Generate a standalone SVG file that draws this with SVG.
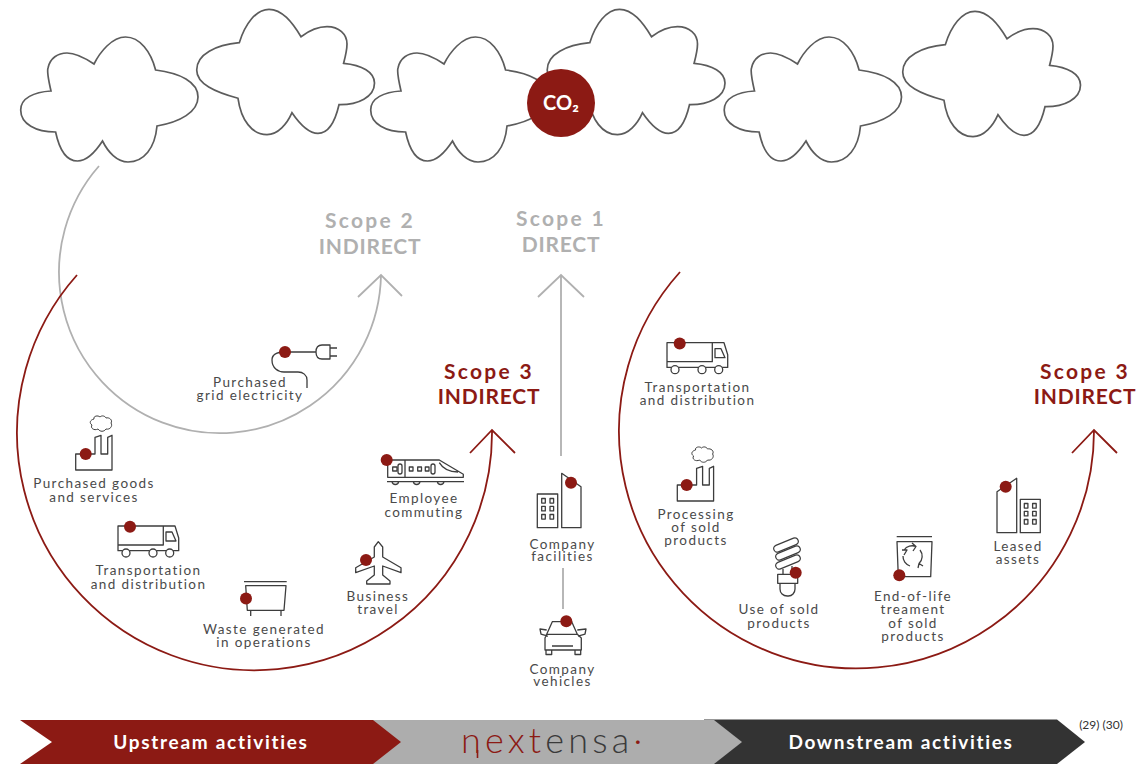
<svg xmlns="http://www.w3.org/2000/svg" width="1138" height="764" viewBox="0 0 1138 764">
<style>
text{font-family:"Lato","Open Sans","Liberation Sans",sans-serif;text-anchor:middle}
.l{font-size:13.5px;letter-spacing:1.4px;fill:#4a4a4a}
.h{font-size:21px;font-weight:700;letter-spacing:.8px}
.s{letter-spacing:2.3px}
.g{fill:#b0b0b0}
.r{fill:#8c1a14}
.c{fill:#fff;stroke:#5c5c5c;stroke-width:1.7}
.i{fill:none;stroke:#3d3d3d;stroke-width:1.3;stroke-linejoin:round}
.w{fill:#fff;stroke:#3d3d3d;stroke-width:1.3}
.d{fill:#8c1a14}
.ar{fill:none;stroke:#8c1a14;stroke-width:1.8}
.ag{fill:none;stroke:#b0b0b0;stroke-width:1.8}
.b{font-size:19px;font-weight:700;fill:#fff;letter-spacing:1.7px}
</style>
<defs>
<path id="ca" d="M94 64C100 52 112 37 125.5 37C140 37 151 52 155.6 70C180 73 198 82 198 97C198 112 180 122 157 126C155 148 144 162 128 162C117 162 108 152 102.5 141C96 151 87 161 77.5 161C66 161 59 148 55.6 132C36 132 20.7 124 20.7 110C20.7 98 34 92 51 91C48 78 47 71 48 68C50 58 58 53 67 53C76 53 85 58 94 64Z"/>
<path id="cb" d="M239.3 42.7C245 24 256 9.3 269 9.3C282 9.3 292 22 301 36.7C310 30 319 26.7 327 26.7C339 26.7 347 34 347 44C347 50 345 58 343.6 63.3C362 65 374.5 72 374.5 83C374.5 97 358 105 339 104.7C335 122 328 133.3 318 133.3C308 133.3 299 123 292 112.7C287 124 278 134.7 267 134.7C252 134.7 241 120 238 98.3C215 92 196.7 84 196.7 70C196.7 54 216 45 239.3 42.7Z"/>
<g id="truck" class="i">
<path d="M118 526H163.3V545H118ZM118 545V550.7H178.7V538L175 526H163.3M166 532H172L176 541H166Z"/>
<circle class="w" cx="126" cy="553" r="4"/><circle class="w" cx="153" cy="553" r="4"/><circle class="w" cx="169.7" cy="553" r="4"/>
</g>
<g id="factory" class="i">
<path d="M75.7 454H95V437.3L101 435.3V454H107.7V437.3L112 435.3V470H75.7Z"/>
<path stroke-width="1" d="M94 419C93 416 98 415 100 417C102 415 105 416 106 418C109 417 113 420 111 423C113 426 110 430 106 429C104 432 100 432 98 429C94 431 90 428 92 425C89 423 90 420 94 419Z"/>
</g>
<g id="windows" class="i">
<rect x="0" y="0" width="3.6" height="4.6"/><rect x="8.3" y="0" width="3.6" height="4.6"/>
<rect x="0" y="7.8" width="3.6" height="4.6"/><rect x="8.3" y="7.8" width="3.6" height="4.6"/>
<rect x="0" y="16" width="3.6" height="4.6"/><rect x="8.3" y="16" width="3.6" height="4.6"/>
</g>
</defs>
<g id="connectors">
<path class="ag" d="M99 166A161 161 0 1 0 381 275M358 297L381 275L402 296"/>
<path class="ag" d="M561 456V275M538 297L561 275L584 297M563 568V609"/>
<path class="ar" d="M77 275A237.5 237.5 0 1 0 492 430M470 453L492 430L515 453"/>
<path class="ar" d="M680 272A237.5 237.5 0 1 0 1094 430M1072 453L1094 430L1117 453"/>
</g>
<g id="clouds">
<use href="#ca" class="c"/>
<use href="#cb" class="c"/>
<use href="#ca" class="c" x="350"/>
<use href="#cb" class="c" x="350.5"/>
<use href="#ca" class="c" x="703.5"/>
<use href="#cb" class="c" x="706" y="2"/>
</g>
<g id="co2"><circle class="d" cx="561" cy="103" r="34"/><text x="561" y="110" style="font-size:20px;font-weight:700;fill:#fff">CO₂</text></g>
<g id="scope2"><text class="h s g" x="370" y="228">Scope 2</text><text class="h g" x="370" y="254">INDIRECT</text></g>
<g id="scope1"><text class="h s g" x="561" y="226">Scope 1</text><text class="h g" x="561" y="252">DIRECT</text></g>
<g id="scope3-up"><text class="h s r" x="489" y="379">Scope 3</text><text class="h r" x="489" y="404">INDIRECT</text></g>
<g id="scope3-down"><text class="h s r" x="1085" y="379">Scope 3</text><text class="h r" x="1085" y="404">INDIRECT</text></g>
<g id="electricity">
<path class="i" d="M285 352H316M285 352C275 352 272 356 272 360C272 368 278 372 284 372H298C303 372 307 375 307 380V388M322 345H330V359H322C318 359 316 356 316 352C316 348 318 345 322 345ZM330 348H337M330 356H337"/>
<circle class="d" cx="285" cy="352" r="6"/>
<text class="l" x="250" y="387">Purchased</text><text class="l" x="250" y="400">grid electricity</text>
</g>
<g id="goods">
<use href="#factory"/><circle class="d" cx="85.7" cy="454" r="6"/>
<text class="l" x="94" y="488">Purchased goods</text><text class="l" x="94" y="502">and services</text>
</g>
<g id="transport-up">
<use href="#truck"/><circle class="d" cx="130" cy="526.7" r="6"/>
<text class="l" x="148.5" y="575">Transportation</text><text class="l" x="148.5" y="589">and distribution</text>
</g>
<g id="waste">
<path class="i" d="M244 581.7H286.7M245.7 585.7H286L284 610.3H247.3ZM250.7 610.3V616M281 610.3V616"/>
<circle class="d" cx="246" cy="598.5" r="6"/>
<text class="l" x="264" y="634">Waste generated</text><text class="l" x="264" y="647">in operations</text>
</g>
<g id="travel">
<path class="i" d="M378.3 541.7L382.7 547V557L401 567.7V572.7L382.7 566V575L390 581V584H366.7V581L374.3 575V566L355.7 572.7V567.7L374.3 557V547Z"/>
<circle class="d" cx="366" cy="560" r="6"/>
<text class="l" x="378" y="601">Business</text><text class="l" x="378" y="614">travel</text>
</g>
<g id="commuting">
<path class="i" d="M387.7 460H439.3L463.3 474.3V477.3H387.7ZM387 481.7H464M405 460V477.3M439.3 462.7C443 469 448 472 458 472M392.7 467H397V471H392.7ZM409.3 467H413V471H409.3ZM417.7 467H421.5V471H417.7ZM425.3 467H429V471H425.3ZM392 481.7A3.4 3.4 0 0 0 398.7 481.7M413.3 481.7A3.4 3.4 0 0 0 420 481.7M437.3 481.7A3.4 3.4 0 0 0 444 481.7"/>
<rect class="i" x="398" y="464" width="4" height="10" rx="2"/><rect class="i" x="431" y="464" width="4" height="10" rx="2"/>
<circle class="d" cx="386.7" cy="460" r="6"/>
<text class="l" x="424" y="503">Employee</text><text class="l" x="424" y="517">commuting</text>
</g>
<g id="facilities">
<path class="i" d="M537.3 494H557.7V527.7H537.3ZM561.7 473.3L581 486.7V527.7H561.7Z"/>
<use href="#windows" x="541.7" y="498.5"/>
<circle class="d" cx="571" cy="482.7" r="6"/>
<text class="l" x="562.5" y="549">Company</text><text class="l" x="562.5" y="561">facilities</text>
</g>
<g id="vehicles">
<path class="i" d="M552.3 621.7H571.7L577.3 634.3H546.7ZM546.7 634.3L545 638V650H581.3V638L577.3 634.3M546.7 630L540 629L541 634L548 636M577.3 630L586 629L585 634L578 636M552 646H573M546 650V654.5H551.7V650M575 650V654.5H580.7V650"/>
<circle class="d" cx="566.3" cy="621.3" r="6"/>
<text class="l" x="562.5" y="674">Company</text><text class="l" x="562.5" y="686">vehicles</text>
</g>
<g id="transport-down">
<use href="#truck" x="549" y="-183.3"/><circle class="d" cx="679.7" cy="343.5" r="6"/>
<text class="l" x="697.5" y="392">Transportation</text><text class="l" x="697.5" y="405">and distribution</text>
</g>
<g id="processing">
<use href="#factory" x="601.6" y="31"/><circle class="d" cx="686.7" cy="485" r="6"/>
<text class="l" x="696" y="519">Processing</text><text class="l" x="696" y="532">of sold</text><text class="l" x="696" y="545">products</text>
</g>
<g id="use-sold">
<rect class="i" x="773" y="541.5" width="26" height="7" rx="3.5" transform="rotate(-22 786 545)"/>
<rect class="i" x="775" y="549.5" width="26" height="7" rx="3.5" transform="rotate(-22 788 553)"/>
<rect class="i" x="775" y="558.5" width="26" height="7" rx="3.5" transform="rotate(-22 788 562)"/>
<path class="i" d="M777.7 574.3H797.7V583.3H777.7ZM780 583.3V589C780 593 783 596 787.3 596H788.5C792 596 795 593 795 589V583.3M783 574V569M792 574V566"/>
<circle class="d" cx="795.7" cy="572.7" r="6"/>
<text class="l" x="779" y="614">Use of sold</text><text class="l" x="779" y="628">products</text>
</g>
<g id="end-of-life">
<path class="i" d="M896.7 536.7H932M897 541.7H932L930.7 576.7H898.3ZM904 550A10 10 0 0 1 916 546.5M920 550A10 10 0 0 1 919 563.5M910 566A10 10 0 0 1 903 556M912 543L916 546.5L913 551M923 566L919 563.5L918 568M902 550H907L904 555"/>
<circle class="d" cx="899.3" cy="575.3" r="6"/>
<text class="l" x="913" y="601">End-of-life</text><text class="l" x="913" y="614">treament</text><text class="l" x="913" y="628">of sold</text><text class="l" x="913" y="641">products</text>
</g>
<g id="leased">
<path class="i" d="M997 491.7L1016.7 478.3V532.7H997ZM1020.3 499.3H1040.3V532.7H1020.3Z"/>
<use href="#windows" x="1024.3" y="503.5"/>
<circle class="d" cx="1005.7" cy="486.7" r="6"/>
<text class="l" x="1018" y="551">Leased</text><text class="l" x="1018" y="564">assets</text>
</g>
<g id="banner">
<path fill="#333" d="M704 719.5H1057L1085 742L1057 764H704Z"/>
<path fill="#adadad" d="M373 720H714L742 742L714 764H373Z"/>
<path fill="#8c1a14" d="M20 720H373L401 742L373 764H20L52 742Z"/>
<text class="b" x="211" y="749">Upstream activities</text>
<text class="b" x="901" y="749">Downstream activities</text>
<text x="553.7" y="753" style="font-size:36px;font-weight:300;letter-spacing:4.2px;fill:#3a3a3a"><tspan fill="#8c1a14">next</tspan>ensa<tspan fill="#8c1a14">·</tspan></text>
<path d="M477.5 750V758" stroke="#8c1a14" stroke-width="1.6" fill="none"/>
</g>
<text x="1101" y="729" style="font-size:12px;fill:#333">(29) (30)</text>
</svg>
